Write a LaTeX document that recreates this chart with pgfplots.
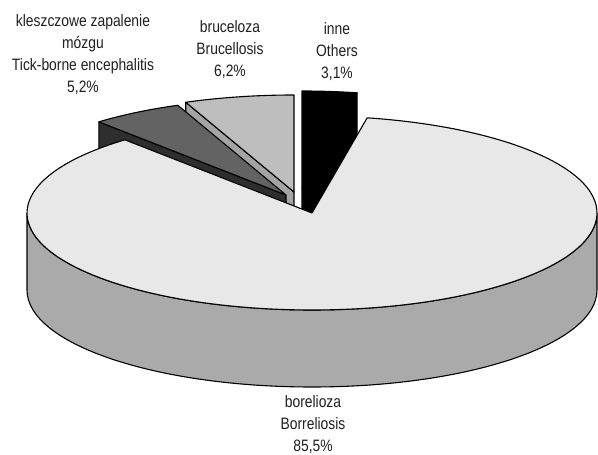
\documentclass[border=0pt]{standalone}
\usepackage{fontspec}
\setmainfont{Liberation Sans}[FakeStretch=0.84]
\usepackage{pgfplots}
\pgfplotsset{compat=1.18}
\definecolor{btop}{HTML}{E8E8E8}
\definecolor{bside}{HTML}{AAAAAA}
\definecolor{brtop}{HTML}{BEBEBE}
\definecolor{brside}{HTML}{A4A4A4}
\definecolor{ktop}{HTML}{636363}
\definecolor{kside}{HTML}{2E2E2E}
% shares in percent
\def\vInne{3.1}
\def\vBruc{6.2}
\def\vKlesz{5.2}
\def\vBorel{85.5}
\begin{document}
\begin{tikzpicture}
\pgfmathsetmacro{\aA}{90-3.6*\vInne}% inne start
\pgfmathsetmacro{\aB}{\aA+3.6*\vInne}% inne end / bruceloza start
\pgfmathsetmacro{\aC}{\aB+3.6*\vBruc}% bruceloza end / kleszczowe start
\pgfmathsetmacro{\aD}{\aC+3.6*\vKlesz}% kleszczowe end / borelioza start
\pgfmathsetmacro{\aE}{\aD+3.6*\vBorel}% borelioza end
\begin{axis}[
  name=pie,
  scale only axis, width=598pt, height=455pt,
  xmin=0, xmax=598, ymin=0, ymax=455,
  hide axis, clip=false,
]
\tikzset{every path/.append style={line width=1.1pt, line join=round}}
% inne
\filldraw[fill=black] (axis cs:302,267) -- ++(\aA:285 and 97) -- ++(0,-77) -- (axis cs:302,190) -- cycle;
\filldraw[fill=black] (axis cs:302,267) -- ++(\aA:285 and 97) arc[start angle=\aA, end angle=\aB, x radius=285, y radius=97] -- cycle;
% bruceloza
\filldraw[fill=brside] (axis cs:294,263) -- ++(\aC:285 and 97) -- ++(0,-77) -- (axis cs:294,186) -- cycle;
\filldraw[fill=brtop] (axis cs:294,263) -- ++(\aB:285 and 97) arc[start angle=\aB, end angle=\aC, x radius=285, y radius=97] -- cycle;
% kleszczowe zapalenie mozgu
\filldraw[fill=kside] (axis cs:286,260) -- ++(\aD:285 and 97) -- ++(0,-77) -- (axis cs:286,183) -- cycle;
\filldraw[fill=ktop] (axis cs:286,260) -- ++(\aC:285 and 97) arc[start angle=\aC, end angle=\aD, x radius=285, y radius=97] -- cycle;
% borelioza
\filldraw[fill=bside] (axis cs:27,242) arc[start angle=180, end angle=360, x radius=285, y radius=97] -- ++(0,-77) arc[start angle=360, end angle=180, x radius=285, y radius=97] -- cycle;
\filldraw[fill=btop] (axis cs:312,242) -- ++(\aD:285 and 97) arc[start angle=\aD, end angle=\aE, x radius=285, y radius=97] -- cycle;
% labels
\tikzset{lab/.style={align=center, font=\fontsize{16.5}{22}\selectfont, text=black!88, inner sep=0pt}}
\node[lab] at (axis cs:83,400) {kleszczowe zapalenie\\mózgu\\Tick-borne encephalitis\\5,2\%};
\node[lab] at (axis cs:230,405) {bruceloza\\Brucellosis\\6,2\%};
\node[lab] at (axis cs:337,403) {inne\\Others\\3,1\%};
\node[lab] at (axis cs:313,30) {borelioza\\Borreliosis\\85,5\%};
\end{axis}
\pgfresetboundingbox
\path (pie.south west) rectangle (pie.north east);
\end{tikzpicture}
\end{document}
